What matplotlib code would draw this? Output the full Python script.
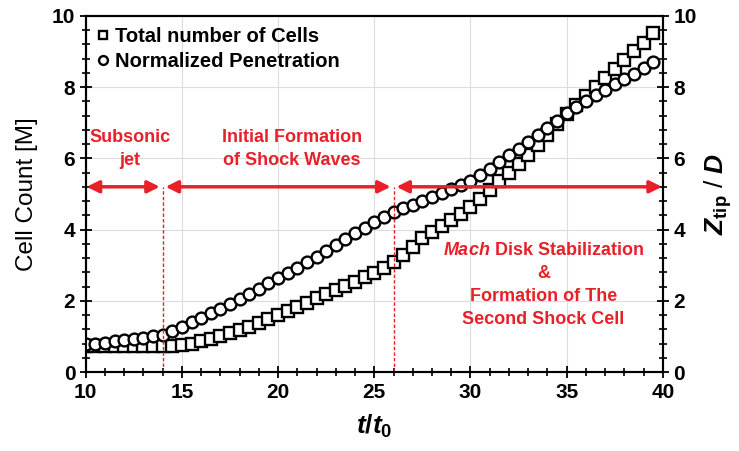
import numpy as np
import matplotlib
matplotlib.use("Agg")
import matplotlib.pyplot as plt
from matplotlib.ticker import MultipleLocator

plt.rcParams['font.family'] = ['Liberation Sans', 'DejaVu Sans']
plt.rcParams['font.weight'] = 'bold'
plt.rcParams['mathtext.fontset'] = 'custom'
plt.rcParams['mathtext.it'] = 'Liberation Sans:italic:bold'
plt.rcParams['mathtext.rm'] = 'Liberation Sans:bold'
plt.rcParams['mathtext.bf'] = 'Liberation Sans:bold'

# time t/t0
t = [10.0, 10.5, 11.0, 11.5, 12.0, 12.5, 13.0, 13.5, 14.0, 14.5,
     15.0, 15.5, 16.0, 16.5, 17.0, 17.5, 18.0, 18.5, 19.0, 19.5,
     20.0, 20.5, 21.0, 21.5, 22.0, 22.5, 23.0, 23.5, 24.0, 24.5,
     25.0, 25.5, 26.0, 26.5, 27.0, 27.5, 28.0, 28.5, 29.0, 29.5,
     30.0, 30.5, 31.0, 31.5, 32.0, 32.5, 33.0, 33.5, 34.0, 34.5,
     35.0, 35.5, 36.0, 36.5, 37.0, 37.5, 38.0, 38.5, 39.0, 39.5]

# total number of cells [M]
cells = [0.72, 0.72, 0.72, 0.72, 0.72, 0.72, 0.72, 0.72, 0.72, 0.72,
         0.75, 0.80, 0.86, 0.93, 1.00, 1.09, 1.18, 1.27, 1.37, 1.49,
         1.60, 1.71, 1.83, 1.95, 2.07, 2.19, 2.30, 2.41, 2.53, 2.66,
         2.79, 2.93, 3.08, 3.28, 3.52, 3.75, 3.93, 4.10, 4.27, 4.44,
         4.62, 4.86, 5.10, 5.35, 5.60, 5.85, 6.10, 6.38, 6.66, 6.96,
         7.25, 7.50, 7.75, 8.00, 8.25, 8.50, 8.75, 9.00, 9.25, 9.52]

# normalized penetration Z_tip / D
penetration = [0.78, 0.80, 0.83, 0.86, 0.89, 0.93, 0.96, 1.00, 1.04, 1.15,
               1.27, 1.40, 1.53, 1.66, 1.78, 1.92, 2.06, 2.19, 2.34, 2.49,
               2.63, 2.78, 2.92, 3.08, 3.23, 3.40, 3.56, 3.73, 3.89, 4.04,
               4.20, 4.35, 4.50, 4.60, 4.70, 4.81, 4.92, 5.03, 5.14, 5.25,
               5.37, 5.52, 5.70, 5.90, 6.08, 6.27, 6.46, 6.66, 6.86, 7.06,
               7.27, 7.45, 7.62, 7.78, 7.93, 8.08, 8.23, 8.38, 8.53, 8.70]

red = '#e8202a'

fig = plt.figure(figsize=(7.39, 4.51), dpi=100)
ax = fig.add_axes([0.116, 0.175, 0.781, 0.79])
ax2 = ax.twinx()

ax.set_xlim(10, 40)
ax.set_ylim(0, 10)
ax2.set_ylim(0, 10)

ax.grid(True, which='major', color='#dcdcdc', linewidth=0.8)
ax.set_axisbelow(True)

h1, = ax.plot(t, cells, 's', ms=8, mfc='white', mec='black', mew=1.7,
              linestyle='none', label='Total number of Cells')
h2, = ax2.plot(t, penetration, 'o', ms=8.5, mfc='white', mec='black', mew=1.7,
               linestyle='none', label='Normalized Penetration')

# phase separators and arrows
arrow_y = 5.2
for xv in [14, 26]:
    ax2.plot([xv, xv], [0, arrow_y], color=red, lw=1.0, ls=(0, (2.5, 1.5)))
for x0, x1 in [(10.05, 13.85), (14.15, 25.85), (26.15, 39.95)]:
    ax2.annotate('', xy=(x1, arrow_y), xytext=(x0, arrow_y),
                 arrowprops=dict(arrowstyle='<|-|>', color=red, lw=2.5,
                                 mutation_scale=18, shrinkA=0, shrinkB=0))

ax2.text(12.3, 6.27, 'Subsonic\njet', color=red, fontsize=13, ha='center',
         va='center', linespacing=1.45)
ax2.text(20.7, 6.27, 'Initial Formation\nof Shock Waves', color=red,
         fontsize=13, ha='center', va='center', linespacing=1.45)
ax2.text(33.8, 2.45,
         '$Mach$ Disk Stabilization\n&\nFormation of The\nSecond Shock Cell',
         color=red, fontsize=13, ha='center', va='center', linespacing=1.45)

for a in (ax, ax2):
    for s in a.spines.values():
        s.set_linewidth(1.5)
ax.xaxis.set_major_locator(MultipleLocator(5))
ax.xaxis.set_minor_locator(MultipleLocator(1))
ax.yaxis.set_major_locator(MultipleLocator(2))
ax.yaxis.set_minor_locator(MultipleLocator(0.4))
ax2.yaxis.set_major_locator(MultipleLocator(2))
ax2.yaxis.set_minor_locator(MultipleLocator(0.4))
ax.tick_params(axis='x', which='major', direction='inout', length=8, width=1.3,
               labelsize=15, pad=4)
ax.tick_params(axis='x', which='minor', direction='inout', length=6, width=1.2)
ax.tick_params(axis='y', which='major', direction='inout', length=8, width=1.3,
               labelsize=15)
ax.tick_params(axis='y', which='minor', direction='inout', length=6, width=1.2)
ax2.tick_params(axis='y', which='major', direction='inout', length=8, width=1.3,
                labelsize=15)
ax2.tick_params(axis='y', which='minor', direction='inout', length=6, width=1.2)

ax.set_xlabel('$t/t_0$', fontsize=19, labelpad=8)
ax.set_ylabel('Cell Count [M]', fontsize=17.5, fontweight='normal', labelpad=10)
ax2.set_ylabel('$Z_{\\rm tip}$ / $D$', fontsize=19, labelpad=4)

ax.legend(handles=[h1, h2], loc='upper left', frameon=False, fontsize=14.5,
          handlelength=0.6, handletextpad=0.3, borderaxespad=0.35,
          labelspacing=0.3, markerscale=0.75, borderpad=0.2)

fig.savefig('out.png', dpi=100)
